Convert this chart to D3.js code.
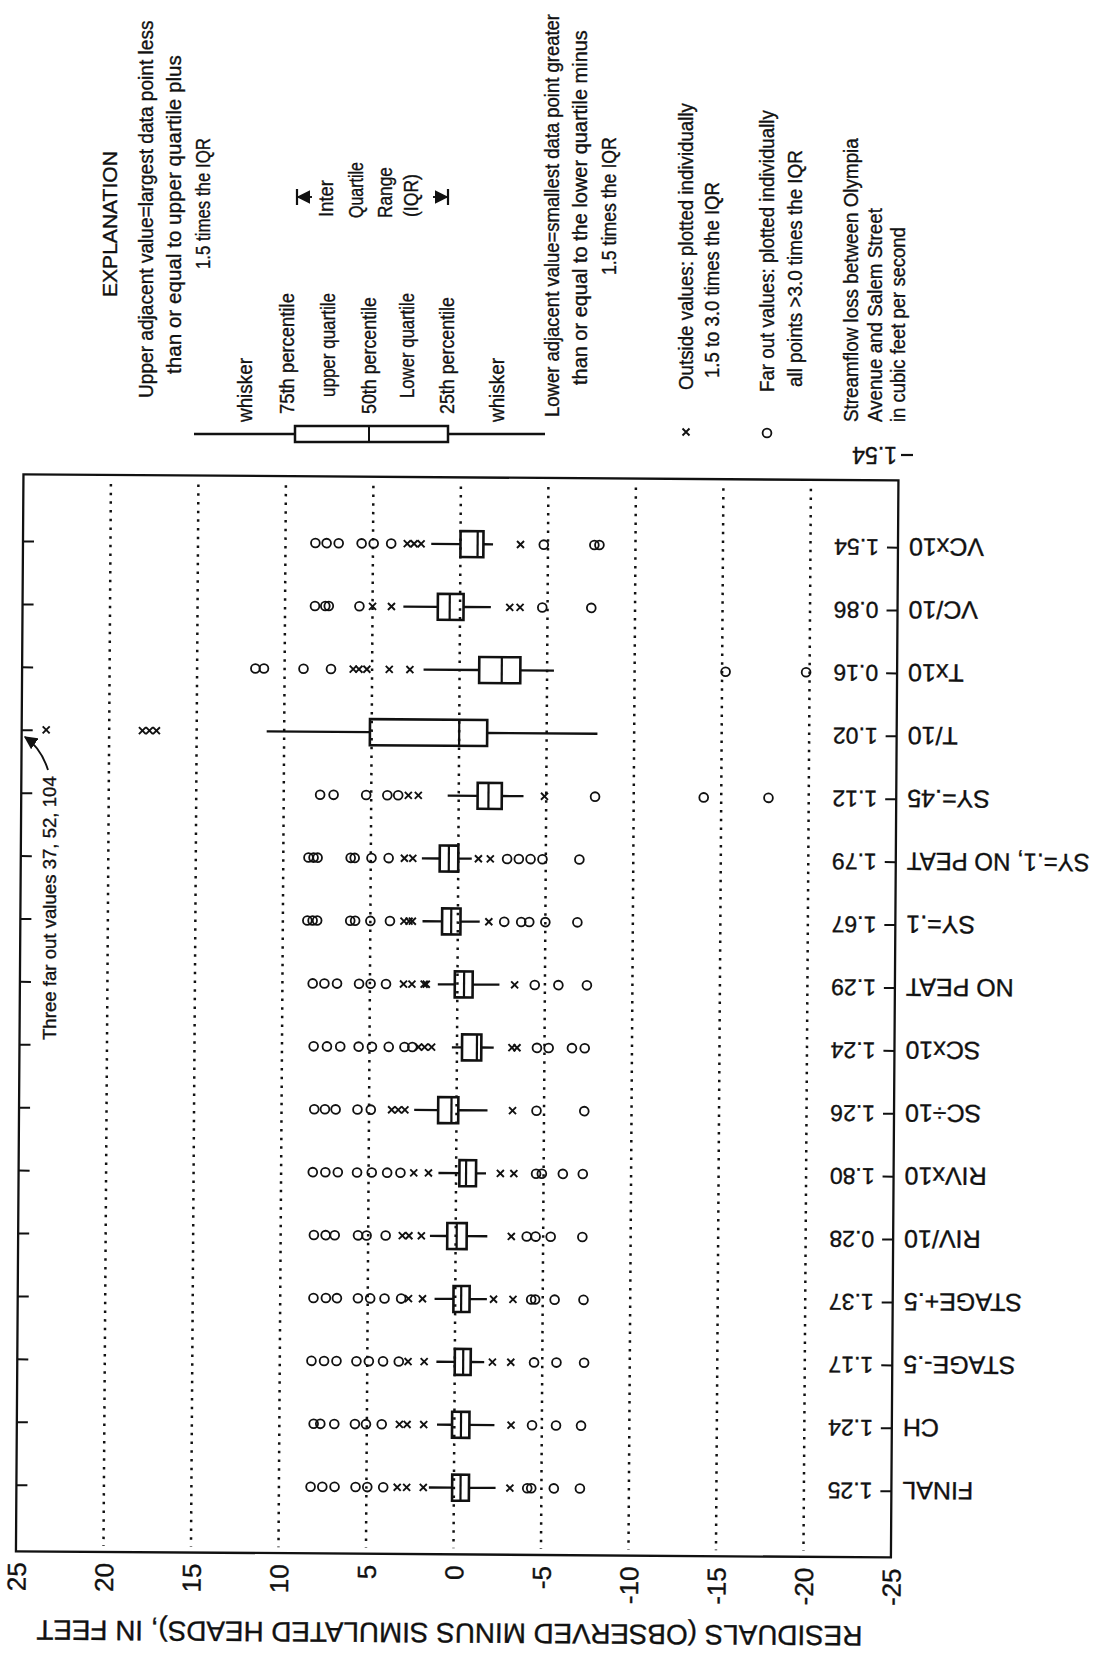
<!DOCTYPE html>
<html>
<head>
<meta charset="utf-8">
<script src="https://cdn.jsdelivr.net/npm/d3@7"></script>
<style>
  html, body { margin: 0; padding: 0; background: #fff; }
  svg { display: block; }
  text { fill: #111; stroke: #111; stroke-width: 0.35px; font-family: "Liberation Sans", Arial, Helvetica, sans-serif; }
</style>
</head>
<body>
<svg id="chart" width="1094" height="1658"></svg>
<script>
// Model runs, listed top to bottom
const categories = ["VCx10", "VC/10", "Tx10", "T/10", "SY=.45", "SY=.1, NO PEAT", "SY=.1", "NO PEAT",
  "SCx10", "SC÷10", "RIVx10", "RIV/10", "STAGE+.5", "STAGE-.5", "CH", "FINAL"];

// Streamflow loss between Olympia Avenue and Salem Street, cubic feet per second
const streamflowLoss = ["1.54", "0.86", "0.16", "1.02", "1.12", "1.79", "1.67", "1.29",
  "1.24", "1.26", "1.80", "0.28", "1.37", "1.17", "1.24", "1.25"];

// Box statistics of the residuals, in feet
const upperAdjacent = [1.67, 3.24, 2.06, 11.0, 0.63, 2.08, 2.02, 1.12, 0.29, 2.42, 1.01, 1.47, 1.18, 1.05, 0.99, 1.43];
const upperQuartile = [0.0, 1.27, -1.12, 5.1, -1.08, 1.06, 0.9, 0.15, -0.29, 1.05, -0.19, 0.48, 0.1, 0.0, 0.13, 0.1];
const medians       = [-0.98, 0.59, -2.41, 0.0, -1.7, 0.54, 0.38, -0.38, -1.14, 0.29, -0.57, -0.06, -0.34, -0.48, -0.38, -0.38];
const lowerQuartile = [-1.31, -0.2, -3.47, -1.6, -2.46, 0.0, -0.15, -0.87, -1.39, -0.1, -1.14, -0.63, -0.82, -0.91, -0.86, -0.86];
const lowerAdjacent = [-1.86, -1.76, -5.39, -7.9, -3.7, -0.77, -1.25, -2.4, -2.1, -1.77, -1.71, -1.81, -1.81, -1.68, -2.29, -2.38];

// Outside values (1.5 to 3.0 times the IQR), plotted as x
const outsideValues = [
  [3.04, 2.65, 2.25, -3.43],
  [5.0, 3.92, -2.84, -3.43],
  [6.08, 5.75, 5.3, 4.02, 2.84],
  [23.6, 18.1, 17.7, 17.3],
  [2.88, 2.31, -4.9],
  [3.08, 2.6, -1.15, -1.83],
  [3.08, 2.79, 2.6, -1.77],
  [3.08, 2.6, 1.9, 1.78, -3.27],
  [2.2, 1.85, 1.45, -3.14, -3.43],
  [3.71, 3.33, 2.95, -3.2],
  [2.42, 1.58, -2.53, -3.3],
  [3.05, 2.67, 1.96, -3.18],
  [2.67, 1.87, -2.19, -3.3],
  [2.67, 1.75, -2.15, -3.2],
  [3.14, 2.7, 1.75, -3.24],
  [3.24, 2.7, 1.75, -3.2]
];

// Far out values (more than 3.0 times the IQR), plotted as o
const farOutValues = [
  [8.29, 7.65, 6.96, 5.65, 4.96, 3.96, -4.76, -7.65, -7.94],
  [8.29, 7.7, 7.5, 5.75, -4.7, -7.5],
  [11.67, 11.18, 8.92, 7.35, -15.2, -19.8],
  [],
  [7.92, 7.15, 5.29, 4.08, 3.46, -7.79, -14.0, -17.7],
  [8.56, 8.27, 8.04, 6.15, 5.92, 4.96, 3.98, -2.79, -3.46, -4.13, -4.81, -6.92],
  [8.6, 8.3, 8.04, 6.15, 5.87, 5.0, 3.88, -2.65, -3.62, -4.08, -5.0, -6.83],
  [8.27, 7.6, 6.88, 5.62, 4.96, 4.08, -4.42, -5.77, -7.4],
  [8.19, 7.43, 6.67, 5.62, 4.86, 3.9, 3.0, 2.55, -4.57, -5.24, -6.57, -7.3],
  [8.13, 7.52, 6.91, 5.66, 4.9, -4.57, -7.3],
  [8.19, 7.47, 6.76, 5.66, 4.82, 3.94, 3.18, -4.57, -4.9, -6.1, -7.24],
  [8.1, 7.43, 6.91, 5.58, 5.09, 4.0, -4.06, -4.57, -5.43, -7.24],
  [8.1, 7.39, 6.76, 5.56, 4.86, 4.04, 3.09, -4.34, -4.57, -5.68, -7.33],
  [8.19, 7.47, 6.76, 5.62, 4.91, 4.1, 3.2, -4.53, -5.81, -7.39],
  [8.04, 7.66, 6.86, 5.68, 5.05, 4.15, -4.44, -5.81, -7.24],
  [8.19, 7.52, 6.82, 5.62, 4.95, 4.04, -4.19, -4.42, -5.71, -7.2]
];

const residualTicks = [25, 20, 15, 10, 5, 0, -5, -10, -15, -20, -25];
const gridValues = [20, 15, 10, 5, 0, -5, -10, -15, -20];
const axisTitle = "RESIDUALS (OBSERVED MINUS SIMULATED HEADS), IN FEET";
const farOutNote = "Three far out values 37, 52, 104";
const legendValue = "1.54";

const explanationLines = [
  "EXPLANATION",
  "Upper adjacent value=largest data point less",
  "than or equal to upper quartile plus",
  "1.5 times the IQR",
  "whisker", "75th percentile", "upper quartile", "50th percentile",
  "Lower quartile", "25th percentile", "whisker",
  "Inter", "Quartile", "Range", "(IQR)",
  "Lower adjacent value=smallest data point greater",
  "than or equal to the lower quartile minus",
  "1.5 times the IQR",
  "Outside values: plotted individually", "1.5 to 3.0 times the IQR",
  "Far out values: plotted individually", "all points >3.0 times the IQR",
  "Streamflow loss between Olympia", "Avenue and Salem Street", "in cubic feet per second"
];

// ---------------------------------------------------------------- drawing
const svg = d3.select("#chart");
svg.append("rect").attr("width", 1094).attr("height", 1658).attr("fill", "#fff");

const ink = "#111";
const plot = { left: 21, right: 896, top: 478, bottom: 1555 };

// the printed page sits a little off square
const plotG = svg.append("g").attr("transform", "rotate(0.4,547,829)");

const x = d3.scaleLinear().domain([25, -25]).range([plot.left, plot.right]);
const y = d3.scalePoint().domain(categories).range([plot.top, plot.bottom]).padding(1.06);

// dotted reference lines
plotG.append("g").selectAll("line").data(gridValues).join("line")
  .attr("x1", d => x(d)).attr("x2", d => x(d))
  .attr("y1", plot.top + 9).attr("y2", plot.bottom - 6)
  .attr("stroke", ink).attr("stroke-width", 2.5)
  .attr("stroke-dasharray", "2.5 6.2");

// residual axis along the bottom, labels read upward
const xAxis = d3.axisBottom(x).tickValues(residualTicks).tickSize(0).tickFormat(d => String(d));
const xAxisG = plotG.append("g").attr("transform", `translate(0,${plot.bottom})`).call(xAxis);
xAxisG.select(".domain").remove();
xAxisG.selectAll("text")
  .attr("x", 0).attr("y", 0).attr("dy", "0.36em")
  .attr("transform", "translate(0,11) rotate(-90)")
  .attr("text-anchor", "end")
  .style("font-size", "26px").style("fill", ink)
  .style("font-family", "'Liberation Sans', Arial, sans-serif");

// left-hand ticks
const leftAxis = d3.axisRight(y).tickSize(11).tickFormat("");
const leftG = plotG.append("g").attr("transform", `translate(${plot.left},0)`).call(leftAxis);
leftG.select(".domain").remove();
leftG.selectAll("line").attr("stroke", ink).attr("stroke-width", 2);

// right-hand ticks carry the streamflow loss of each run
const lossByRun = new Map(categories.map((c, i) => [c, streamflowLoss[i]]));
const rightAxis = d3.axisLeft(y).tickSize(11).tickPadding(0).tickFormat(c => lossByRun.get(c));
const rightG = plotG.append("g").attr("transform", `translate(${plot.right},0)`).call(rightAxis);
rightG.select(".domain").remove();
rightG.selectAll("line").attr("stroke", ink).attr("stroke-width", 2);
rightG.selectAll("text")
  .attr("x", 0).attr("y", 0).attr("dy", "0.36em")
  .attr("transform", "translate(-19,0) rotate(180)")
  .attr("text-anchor", "start")
  .style("font-size", "23px").style("fill", ink)
  .style("font-family", "'Liberation Sans', Arial, sans-serif");

// run names outside the frame
const nameX = plot.right + 11;
plotG.append("g").selectAll("text").data(categories).join("text")
  .attr("transform", d => `translate(${nameX},${y(d)}) rotate(180)`)
  .attr("dy", "0.36em")
  .attr("text-anchor", "end")
  .style("font-size", "25px")
  .text(d => d)
  .each(function (d) {
    // keep the longest name inside the page
    const room = 1090 - nameX;
    const w = this.getComputedTextLength();
    if (w > room) {
      d3.select(this).attr("transform", `translate(${nameX},${y(d)}) rotate(180) scale(${room / w},1)`);
    }
  });

// frame
plotG.append("rect")
  .attr("x", plot.left).attr("y", plot.top)
  .attr("width", plot.right - plot.left).attr("height", plot.bottom - plot.top)
  .attr("fill", "none").attr("stroke", ink).attr("stroke-width", 2.3);

// boxes
const rows = categories.map((c, i) => ({
  c, hi: upperAdjacent[i], q3: upperQuartile[i], med: medians[i], q1: lowerQuartile[i],
  lo: lowerAdjacent[i], out: outsideValues[i], far: farOutValues[i]
}));
const boxH = 26;
const rowG = plotG.append("g").selectAll("g").data(rows).join("g")
  .attr("transform", d => `translate(0,${y(d.c)})`);

rowG.append("line")
  .attr("x1", d => x(d.hi)).attr("x2", d => x(d.q3)).attr("y1", 0).attr("y2", 0)
  .attr("stroke", ink).attr("stroke-width", 2.3);
rowG.append("line")
  .attr("x1", d => x(d.q1)).attr("x2", d => x(d.lo)).attr("y1", 0).attr("y2", 0)
  .attr("stroke", ink).attr("stroke-width", 2.3);
rowG.append("rect")
  .attr("x", d => x(d.q3)).attr("width", d => x(d.q1) - x(d.q3))
  .attr("y", -boxH / 2).attr("height", boxH)
  .attr("fill", "none").attr("stroke", ink).attr("stroke-width", 2.6);
rowG.append("line")
  .attr("x1", d => x(d.med)).attr("x2", d => x(d.med))
  .attr("y1", -boxH / 2).attr("y2", boxH / 2)
  .attr("stroke", ink).attr("stroke-width", 2.2);

const crossPath = "M-3.5,-3.5L3.5,3.5M-3.5,3.5L3.5,-3.5";
rowG.selectAll("path.out").data(d => d.out).join("path").attr("class", "out")
  .attr("d", crossPath)
  .attr("transform", v => `translate(${x(v)},0)`)
  .attr("fill", "none").attr("stroke", ink).attr("stroke-width", 1.9);
rowG.selectAll("circle.far").data(d => d.far).join("circle").attr("class", "far")
  .attr("cx", v => x(v)).attr("cy", 0).attr("r", 4.4)
  .attr("fill", "none").attr("stroke", ink).attr("stroke-width", 1.8);

// axis title, printed upside down
plotG.append("text")
  .attr("transform", "translate(455,1634) rotate(180)")
  .attr("dy", "0.36em").attr("text-anchor", "middle")
  .attr("textLength", 826).attr("lengthAdjust", "spacingAndGlyphs")
  .style("font-size", "28px")
  .text(axisTitle);

// ---------------------------------------------------------------- explanation
const legendG = svg.append("g");
// [column x, bottom y, top y] of each explanation line
const lineLayout = [
  [109, 297, 151],
  [146, 398, 20], [174, 374, 55], [203, 269, 138],
  [245, 422, 358], [287, 414, 293], [328, 397, 293], [369, 414, 297],
  [407, 398, 293], [447, 414, 297], [497, 422, 358],
  [326, 217, 180], [356, 218, 162], [385, 218, 167], [411, 217, 174],
  [552, 417, 14], [580, 385, 30], [609, 275, 137],
  [686, 390, 103], [712, 378, 182],
  [767, 392, 110], [795, 387, 150],
  [851, 422, 138], [875, 422, 208], [898, 422, 227]
];
// each line is drawn upward and squeezed or stretched to its printed length
legendG.selectAll("text.expl").data(explanationLines).join("text").attr("class", "expl")
  .attr("dy", "0.36em")
  .style("font-size", (d, i) => i === 0 ? "21px" : "20px")
  .text(d => d)
  .each(function (d, i) {
    const [cx, yBottom, yTop] = lineLayout[i];
    const s = (yBottom - yTop) / this.getComputedTextLength();
    d3.select(this).attr("transform", `translate(${cx},${yBottom}) rotate(-90) scale(${s},1)`);
  });

// sample box
const sample = { hi: 194, q3: 295, med: 369, q1: 448, lo: 545, y: 434 };
legendG.append("line").attr("x1", sample.hi).attr("x2", sample.lo)
  .attr("y1", sample.y).attr("y2", sample.y).attr("stroke", ink).attr("stroke-width", 2.3);
legendG.append("rect").attr("x", sample.q3).attr("width", sample.q1 - sample.q3)
  .attr("y", sample.y - 8).attr("height", 16)
  .attr("fill", "#fff").attr("stroke", ink).attr("stroke-width", 2.5);
legendG.append("line").attr("x1", sample.med).attr("x2", sample.med)
  .attr("y1", sample.y - 8).attr("y2", sample.y + 8).attr("stroke", ink).attr("stroke-width", 2);

// IQR arrows
svg.append("defs").append("marker")
  .attr("id", "arrowHead").attr("viewBox", "0 0 10 10").attr("refX", 9).attr("refY", 5)
  .attr("markerWidth", 7).attr("markerHeight", 7).attr("orient", "auto-start-reverse")
  .append("path").attr("d", "M0,0L10,5L0,10Z").attr("fill", ink);
const iqrY = 197;
[[297, 312], [448, 433]].forEach(([bar, from]) => {
  legendG.append("line").attr("x1", bar).attr("x2", bar).attr("y1", iqrY - 8).attr("y2", iqrY + 8)
    .attr("stroke", ink).attr("stroke-width", 2.2);
  legendG.append("line").attr("x1", from).attr("x2", bar + (from > bar ? 1 : -1)).attr("y1", iqrY).attr("y2", iqrY)
    .attr("stroke", ink).attr("stroke-width", 1.9).attr("marker-end", "url(#arrowHead)");
});

// outside / far out symbols
legendG.append("path").attr("d", crossPath).attr("transform", "translate(686,432)")
  .attr("fill", "none").attr("stroke", ink).attr("stroke-width", 1.9);
legendG.append("circle").attr("cx", 767).attr("cy", 433).attr("r", 4.4)
  .attr("fill", "none").attr("stroke", ink).attr("stroke-width", 1.8);

// streamflow loss symbol
legendG.append("line").attr("x1", 901).attr("x2", 913).attr("y1", 455).attr("y2", 455)
  .attr("stroke", ink).attr("stroke-width", 2.2);
legendG.append("text")
  .attr("transform", "translate(897,455) rotate(180)")
  .attr("dy", "0.36em").attr("text-anchor", "start")
  .style("font-size", "23px")
  .text(legendValue);

// note on the T/10 far out values
legendG.append("text")
  .attr("dy", "0.36em")
  .style("font-size", "18px")
  .text(farOutNote)
  .each(function () {
    const s = 264 / this.getComputedTextLength();
    d3.select(this).attr("transform", `translate(50,1040) rotate(-90) scale(${s},1)`);
  });
legendG.append("path")
  .attr("d", "M48,770 Q41,748 25,737")
  .attr("fill", "none").attr("stroke", ink).attr("stroke-width", 1.9)
  .attr("marker-end", "url(#arrowHead)");
</script>
</body>
</html>
